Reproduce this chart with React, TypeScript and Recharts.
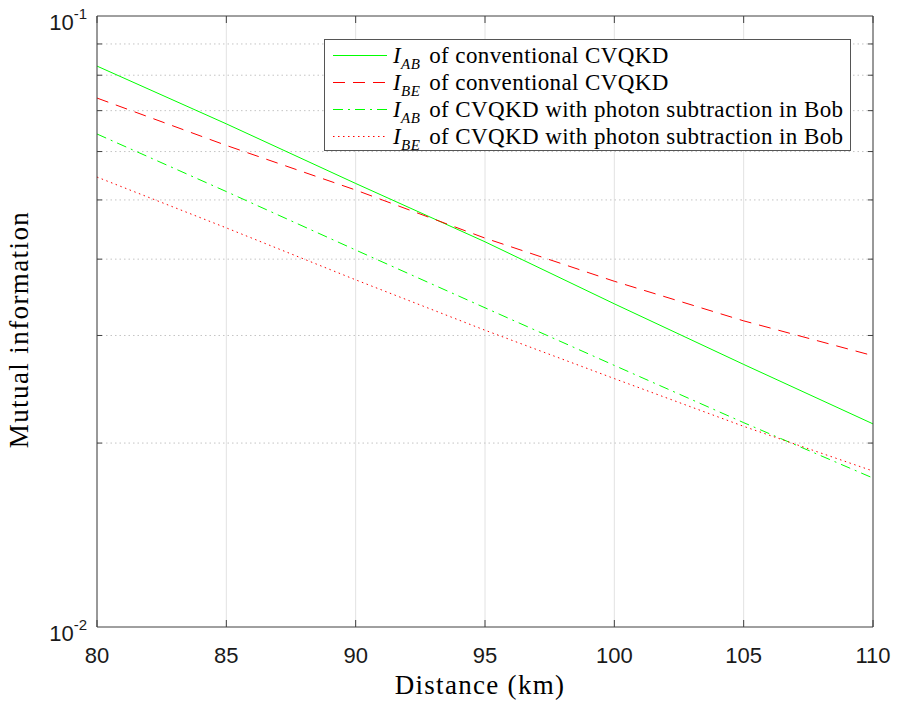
import { CartesianGrid, Legend, Line, LineChart, ReferenceLine, XAxis, YAxis } from "recharts"

// distance in km
const distance = [80, 85, 90, 95, 100, 105, 110]

// mutual information
const iabConventional = [0.0828, 0.0666, 0.0532, 0.0427, 0.0338, 0.0269, 0.0215]
const ibeConventional = [0.0734, 0.0614, 0.0519, 0.0433, 0.0368, 0.0317, 0.0278]
const iabSubtraction = [0.0641, 0.0516, 0.0414, 0.0333, 0.0268, 0.0216, 0.01753]
const ibeSubtraction = [0.0545, 0.045, 0.037, 0.0306, 0.0255, 0.0213, 0.018]

const xTicks = [80, 85, 90, 95, 100, 105, 110]
const yMajorTicks = [0.01, 0.1]
const yMinorTicks = [0.02, 0.03, 0.04, 0.05, 0.06, 0.07, 0.08, 0.09]
const yExponents: Record<string, string> = { "0.01": "-2", "0.1": "-1" }

const series = [
  { key: "iabConv", sub: "AB", text: "of conventional CVQKD", color: "#00ff00", dash: undefined },
  { key: "ibeConv", sub: "BE", text: "of conventional CVQKD", color: "#ff0000", dash: "12 8" },
  { key: "iabSub", sub: "AB", text: "of CVQKD with photon subtraction in Bob", color: "#00ff00", dash: "10 5 2 5" },
  { key: "ibeSub", sub: "BE", text: "of CVQKD with photon subtraction in Bob", color: "#ff0000", dash: "1.5 3.5" },
]

const data = distance.map((d, i) => ({
  d,
  iabConv: iabConventional[i],
  ibeConv: ibeConventional[i],
  iabSub: iabSubtraction[i],
  ibeSub: ibeSubtraction[i],
}))

const W = 897
const H = 701
const LEFT = 97
const RIGHT = 873
const TOP = 16
const BOTTOM = 627
const AXIS = "#404040"
const SERIF = '"Liberation Serif", serif'
const SANS = '"Liberation Sans", Arial, sans-serif'

const XTick = (props: any) => {
  const { x, payload } = props
  return (
    <g>
      <line x1={x} x2={x} y1={BOTTOM} y2={BOTTOM - 7} stroke={AXIS} />
      <line x1={x} x2={x} y1={TOP} y2={TOP + 7} stroke={AXIS} />
      <text x={x} y={BOTTOM + 36} textAnchor="middle" fontFamily={SANS} fontSize={22} fill="#1a1a1a">
        {payload.value}
      </text>
    </g>
  )
}

const YTick = (props: any) => {
  const { y, payload } = props
  const exp = yExponents[String(payload.value)]
  if (exp) {
    return (
      <text x={87} y={y + 14} textAnchor="end" fontFamily={SANS} fontSize={22} fill="#1a1a1a">
        10
        <tspan dy={-11} fontSize={15}>
          {exp}
        </tspan>
      </text>
    )
  }
  return (
    <g>
      <line x1={LEFT} x2={LEFT + 5} y1={y} y2={y} stroke={AXIS} />
      <line x1={RIGHT - 5} x2={RIGHT} y1={y} y2={y} stroke={AXIS} />
    </g>
  )
}

const LegendBox = () => (
  <div
    style={{
      boxSizing: "border-box",
      width: 527,
      height: 112,
      border: "1px solid #555",
      background: "#fff",
      padding: "2px 0",
    }}
  >
    {series.map((s) => (
      <div key={s.key} style={{ display: "flex", alignItems: "center", height: 27 }}>
        <svg width={62} height={27} style={{ flex: "none" }}>
          <line x1={8} x2={62} y1={13.5} y2={13.5} stroke={s.color} strokeDasharray={s.dash} />
        </svg>
        <span
          style={{
            marginLeft: 6,
            fontFamily: SERIF,
            fontSize: 23,
            letterSpacing: 0.4,
            color: "#000",
            whiteSpace: "nowrap",
            lineHeight: "27px",
          }}
        >
          <i>I</i>
          <sub style={{ fontSize: 15, fontStyle: "italic", lineHeight: 0, marginRight: 9 }}>{s.sub}</sub>
          {s.text}
        </span>
      </div>
    ))}
  </div>
)

export default function App() {
  const midY = (TOP + BOTTOM) / 2 + 8
  return (
    <div style={{ position: "absolute", left: 0, top: 0, background: "#fff" }}>
      <LineChart width={W} height={H} data={data} margin={{ top: TOP, right: W - RIGHT, bottom: 0, left: 0 }}>
        <CartesianGrid horizontal={false} stroke="#e2e2e2" />
        {yMinorTicks.map((v) => (
          <ReferenceLine key={v} y={v} stroke="#c4c4c4" strokeDasharray="1.5 3" />
        ))}
        <XAxis
          dataKey="d"
          type="number"
          domain={[80, 110]}
          ticks={xTicks}
          interval={0}
          height={H - BOTTOM}
          axisLine={false}
          tickLine={false}
          tick={<XTick />}
          label={{
            content: () => (
              <text
                x={(LEFT + RIGHT) / 2 - 5}
                y={694}
                textAnchor="middle"
                fontFamily={SERIF}
                fontSize={27}
                letterSpacing={1.3}
              >
                Distance (km)
              </text>
            ),
          }}
        />
        <YAxis
          type="number"
          scale="log"
          domain={[0.01, 0.1]}
          allowDataOverflow
          ticks={[...yMajorTicks, ...yMinorTicks]}
          interval={0}
          width={LEFT}
          axisLine={false}
          tickLine={false}
          tick={<YTick />}
          label={{
            content: () => (
              <text
                x={28}
                y={midY}
                transform={`rotate(-90, 28, ${midY})`}
                textAnchor="middle"
                fontFamily={SERIF}
                fontSize={27}
                letterSpacing={1.4}
              >
                Mutual information
              </text>
            ),
          }}
        />
        {series.map((s) => (
          <Line
            key={s.key}
            dataKey={s.key}
            type="linear"
            stroke={s.color}
            strokeWidth={1}
            strokeDasharray={s.dash}
            dot={false}
            activeDot={false}
            isAnimationActive={false}
          />
        ))}
        <ReferenceLine x={80} stroke={AXIS} />
        <ReferenceLine x={110} stroke={AXIS} />
        <ReferenceLine y={0.01} stroke={AXIS} />
        <ReferenceLine y={0.1} stroke={AXIS} />
        <Legend
          layout="vertical"
          align="center"
          verticalAlign="middle"
          wrapperStyle={{ top: 39, left: 324, width: 527, height: 112 }}
          content={() => <LegendBox />}
        />
      </LineChart>
    </div>
  )
}
